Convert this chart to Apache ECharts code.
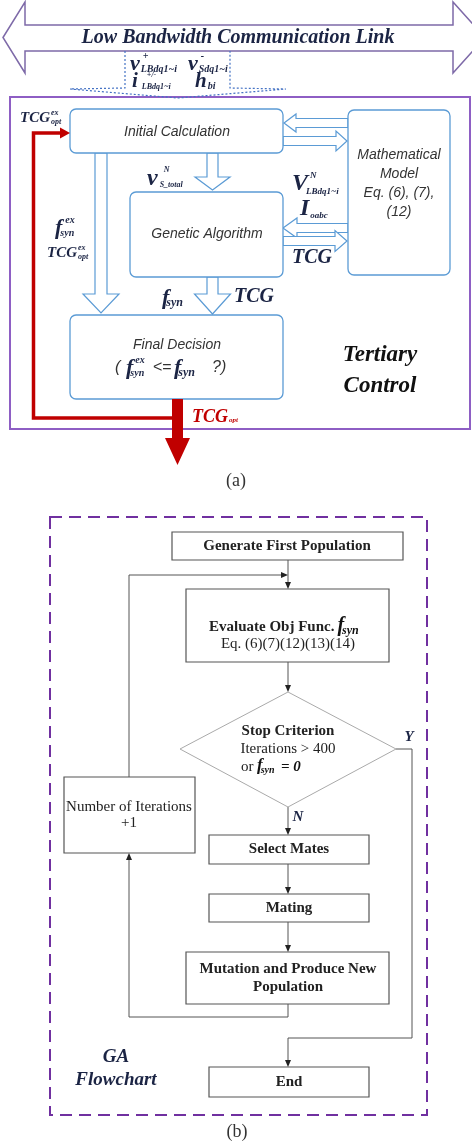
<!DOCTYPE html>
<html><head><meta charset="utf-8">
<script src="https://cdn.jsdelivr.net/npm/echarts@6/dist/echarts.min.js"></script>
<style>html,body{margin:0;padding:0;background:#fff}#c{width:472px;height:1146px}</style>
</head><body><div id="c"></div>
<script>
// ---------- content (text only) ----------
const linkTitle = 'Low Bandwidth Communication Link';
const blockLabels = ['Initial Calculation', 'Genetic Algorithm', 'Final Decision'];
const modelLines = ['Mathematical', 'Model', 'Eq. (6), (7),', '(12)'];
const tertiaryLines = ['Tertiary', 'Control'];
const gaSteps = ['Generate First Population', 'Evaluate Obj Func.', 'Eq. (6)(7)(12)(13)(14)', 'Select Mates', 'Mating', 'Mutation and Produce New', 'Population', 'End'];
const stopLines = ['Stop Criterion', 'Iterations > 400', 'or'];
const iterLines = ['Number of Iterations', '+1'];
const branchLabels = ['Y', 'N'];
const flowTitle = ['GA', 'Flowchart'];
const captions = ['(a)', '(b)'];

// ---------- helpers ----------
const SERIF = '"Liberation Serif","Times New Roman",serif';
const SANS = '"Liberation Sans",Arial,sans-serif';
const NAVY = '#1b2444';
const BLUE = '#5b9bd5';
const RED = '#c00000';
const cv = document.createElement('canvas').getContext('2d');
function measure(t, size, fam, w, s) { cv.font = (s || 'normal') + ' ' + (w || 'normal') + ' ' + size + 'px ' + fam; return cv.measureText(t).width; }
function txt(x, y, text, o) {
  o = o || {};
  const al = o.align || 'left';
  return { type: 'text', x: x, y: y, z: o.z || 20, silent: true,
    style: { text: text, fill: o.fill || '#222', fontSize: o.size || 14, fontFamily: o.fam || SERIF,
      fontWeight: o.weight || 'normal', fontStyle: o.style || 'normal',
      align: al, textAlign: al, verticalAlign: 'middle', textVerticalAlign: 'middle' } };
}
function math(x, y, base, sup, sub, o) {
  o = o || {};
  const bs = o.size || 20, ss = o.ss || Math.round(bs * 0.45), fill = o.fill || NAVY;
  const w = measure(base, bs, SERIF, 'bold', 'italic');
  const out = [txt(x, y, base, { size: bs, weight: 'bold', style: 'italic', fill: fill })];
  if (sup) out.push(txt(x + w + (o.supDx || 1), y - bs * 0.36 + (o.supDy || 0), sup, { size: ss, weight: 'bold', style: 'italic', fill: fill }));
  if (sub) out.push(txt(x + w + (o.subDx || 0), y + bs * 0.26 + (o.subDy || 0), sub, { size: ss, weight: 'bold', style: 'italic', fill: fill }));
  return out;
}
function rect(x, y, w, h, o) {
  return { type: 'rect', z: o.z || 5, silent: true, shape: { x: x, y: y, width: w, height: h, r: o.r || 0 },
    style: { fill: o.fill || '#fff', stroke: o.stroke, lineWidth: o.lw || 1, lineDash: o.dash || null } };
}
function poly(pts, o) {
  return { type: 'polygon', z: o.z || 6, silent: true, shape: { points: pts },
    style: { fill: o.fill || '#fff', stroke: o.stroke || null, lineWidth: o.lw || 1, lineDash: o.dash || null } };
}
function line(pts, o) {
  return { type: 'polyline', z: o.z || 4, silent: true, shape: { points: pts },
    style: { fill: null, stroke: o.stroke || '#444', lineWidth: o.lw || 1, lineDash: o.dash || null } };
}
// hollow arrows
function vArrow(xc, y1, tip, sh, hh, hl) {
  return poly([[xc - sh, y1], [xc - sh, tip - hl], [xc - hh, tip - hl], [xc, tip], [xc + hh, tip - hl], [xc + sh, tip - hl], [xc + sh, y1]], { stroke: BLUE, lw: 1.2, z: 4 });
}
function hArrow(x1, tip, yc, sh, hh, hl) {
  const d = tip > x1 ? 1 : -1;
  return poly([[x1, yc - sh], [tip - d * hl, yc - sh], [tip - d * hl, yc - hh], [tip, yc], [tip - d * hl, yc + hh], [tip - d * hl, yc + sh], [x1, yc + sh]], { stroke: BLUE, lw: 1.2, z: 4 });
}
// small filled arrowheads
function headDown(x, y) { return poly([[x - 3, y - 7], [x + 3, y - 7], [x, y]], { fill: '#222', z: 7 }); }
function headUp(x, y) { return poly([[x - 3, y + 7], [x + 3, y + 7], [x, y]], { fill: '#222', z: 7 }); }
function headRight(x, y) { return poly([[x - 7, y - 3], [x - 7, y + 3], [x, y]], { fill: '#222', z: 7 }); }

const E = [];
// ================= Panel (a) =================
// communication link double arrow
E.push(poly([[3, 37.5], [25, 2], [25, 25], [453, 25], [453, 2], [485, 37.5], [453, 73], [453, 51], [25, 51], [25, 73]], { stroke: '#7e6aa8', lw: 1.5, z: 3 }));
E.push(txt(238, 38, linkTitle, { size: 20, weight: 'bold', style: 'italic', fill: NAVY, align: 'center' }));
// dotted down arrow
E.push(line([[125, 51], [125, 88], [70, 89], [178, 98], [286, 89], [230, 88], [230, 51]], { stroke: '#4472c4', lw: 1.2, dash: [2, 2], z: 3 }));
// tertiary box
E.push(rect(10, 97, 460, 332, { stroke: '#8e5ec4', lw: 2, fill: 'rgba(0,0,0,0)', z: 2 }));
// signals in dotted arrow
E.push(...math(130, 64, 'v', '+', 'LBdq1~i', { size: 22, ss: 10, supDx: 3, subDx: 1, subDy: 0 }));
E.push(...math(188, 64, 'v', '-', 'Sdq1~i', { size: 22, ss: 10, supDx: 3, subDx: 1, subDy: 0 }));
E.push(...math(132, 82, 'i', '+/-', 'LBdq1~i', { size: 21, ss: 8, supDx: 9, subDx: 4, subDy: -1 }));
E.push(...math(195, 82, 'h', null, 'bi', { size: 21, ss: 10, subDx: 1, subDy: -1 }));

// hollow arrows
E.push(vArrow(101, 153, 313, 6, 18, 19));
E.push(vArrow(212.5, 153, 190, 5.5, 17.5, 13));
E.push(vArrow(212.5, 277, 314, 5.5, 18, 20));
E.push(hArrow(348, 284, 123, 4.5, 9, 12));
E.push(hArrow(283, 347, 141, 4.5, 10, 11));
E.push(hArrow(348, 283, 228, 4.5, 10, 14));
E.push(hArrow(283, 347, 241, 4.5, 10.5, 12));

// blocks
E.push(rect(70, 109, 213, 44, { stroke: BLUE, lw: 1.3, r: 6 }));
E.push(rect(130, 192, 153, 85, { stroke: BLUE, lw: 1.3, r: 6 }));
E.push(rect(70, 315, 213, 84, { stroke: BLUE, lw: 1.3, r: 6 }));
E.push(rect(348, 110, 102, 165, { stroke: BLUE, lw: 1.3, r: 6 }));
E.push(txt(177, 132, blockLabels[0], { size: 14, fam: SANS, style: 'italic', fill: '#333', align: 'center' }));
E.push(txt(207, 234, blockLabels[1], { size: 14, fam: SANS, style: 'italic', fill: '#333', align: 'center' }));
E.push(txt(177, 345, blockLabels[2], { size: 14, fam: SANS, style: 'italic', fill: '#333', align: 'center' }));
modelLines.forEach((t, i) => E.push(txt(399, 155 + i * 19, t, { size: 14, fam: SANS, style: 'italic', fill: '#333', align: 'center' })));
// final decision condition
E.push(txt(115, 368, '(', { size: 16, fam: SANS, style: 'italic', fill: '#333' }));
E.push(...math(126, 368, 'f', 'ex', 'syn', { size: 22, ss: 10, supDx: 2, subDx: -3, subDy: 0 }));
E.push(txt(153, 368, '<=', { size: 16, fam: SANS, fill: '#333' }));
E.push(...math(174, 368, 'f', null, 'syn', { size: 22, ss: 12, subDx: -3, subDy: -1 }));
E.push(txt(212, 368, '?)', { size: 16, fam: SANS, style: 'italic', fill: '#333' }));

// signal labels
E.push(...math(20, 118, 'TCG', 'ex', 'opt', { size: 15, ss: 8, supDx: 1, subDx: 1, subDy: 0 }));
E.push(...math(147, 179, 'v', 'N', 'S_total', { size: 24, ss: 8, supDx: 6, subDx: 2, subDy: 0 }));
E.push(...math(292, 184, 'V', 'N', 'LBdq1~i', { size: 24, ss: 9, supDx: 2, subDx: -2, subDy: 1 }));
E.push(...math(300, 209, 'I', null, 'oabc', { size: 24, ss: 9, subDx: 1, subDy: 0 }));
E.push(...math(55, 228, 'f', 'ex', 'syn', { size: 22, ss: 10, supDx: 3, subDx: -2, subDy: 0 }));
E.push(...math(47, 253, 'TCG', 'ex', 'opt', { size: 15, ss: 8, supDx: 1, subDx: 1, subDy: 0 }));
E.push(...math(292, 258, 'TCG', null, null, { size: 20 }));
E.push(...math(162, 298, 'f', null, 'syn', { size: 22, ss: 12, subDx: -3, subDy: -1 }));
E.push(...math(234, 297, 'TCG', null, null, { size: 20 }));
E.push(...math(192, 417, 'TCG', null, 'opt', { size: 18, ss: 7, subDx: 1, subDy: -1, fill: RED }));
// tertiary control label
tertiaryLines.forEach((t, i) => E.push(txt(380, 355 + i * 31, t, { size: 23, weight: 'bold', style: 'italic', fill: '#111', align: 'center' })));

// red feedback path and output arrow
E.push(line([[177.5, 418], [33.5, 418], [33.5, 133], [61, 133]], { stroke: RED, lw: 3.5, z: 8 }));
E.push(poly([[60, 127.5], [70, 133], [60, 138.5]], { fill: RED, z: 8 }));
E.push(poly([[172, 399], [183, 399], [183, 438], [190, 438], [177.5, 465], [165, 438], [172, 438]], { fill: RED, z: 8 }));
E.push(txt(236, 481, captions[0], { size: 18, fill: '#333', align: 'center' }));

// ================= Panel (b) =================
E.push(rect(50, 517, 377, 598, { stroke: '#7030a0', lw: 2, dash: [12, 7], fill: 'rgba(0,0,0,0)', z: 2 }));
const BK = '#555';
// connectors
E.push(line([[288, 560], [288, 583]], { stroke: BK }), headDown(288, 589));
E.push(line([[129, 777], [129, 575], [282, 575]], { stroke: BK }), headRight(288, 575));
E.push(line([[288, 662], [288, 686]], { stroke: BK }), headDown(288, 692));
E.push(line([[288, 807], [288, 829]], { stroke: BK }), headDown(288, 835));
E.push(line([[288, 864], [288, 888]], { stroke: BK }), headDown(288, 894));
E.push(line([[288, 922], [288, 946]], { stroke: BK }), headDown(288, 952));
E.push(line([[288, 1004], [288, 1017], [129, 1017], [129, 859]], { stroke: BK }), headUp(129, 853));
E.push(line([[396, 749], [412, 749], [412, 1038], [288, 1038], [288, 1061]], { stroke: BK }), headDown(288, 1067));
// boxes
E.push(rect(172, 532, 231, 28, { stroke: BK, lw: 1.2 }));
E.push(rect(186, 589, 203, 73, { stroke: BK, lw: 1.2 }));
E.push(rect(64, 777, 131, 76, { stroke: BK, lw: 1.2 }));
E.push(rect(209, 835, 160, 29, { stroke: BK, lw: 1.2 }));
E.push(rect(209, 894, 160, 28, { stroke: BK, lw: 1.2 }));
E.push(rect(186, 952, 203, 52, { stroke: BK, lw: 1.2 }));
E.push(rect(209, 1067, 160, 30, { stroke: BK, lw: 1.2 }));
E.push(poly([[288, 692], [396, 749], [288, 807], [180, 749]], { stroke: '#aaa', lw: 1, z: 5 }));
// box texts
const B = { size: 15, weight: 'bold', fill: '#222', align: 'center' };
const R = { size: 15, fill: '#222', align: 'center' };
E.push(txt(287, 546, gaSteps[0], B));
const evalW = measure(gaSteps[1], 15, SERIF, 'bold', 'normal');
E.push(txt(209, 627, gaSteps[1], Object.assign({}, B, { align: 'left' })));
E.push(...math(209 + evalW + 3, 626, 'f', null, 'syn', { size: 20, ss: 12, subDx: -2, subDy: 0, fill: '#111' }));
E.push(txt(288, 644, gaSteps[2], R));
E.push(txt(289, 849, gaSteps[3], B));
E.push(txt(289, 908, gaSteps[4], B));
E.push(txt(288, 969, gaSteps[5], B));
E.push(txt(288, 987, gaSteps[6], B));
E.push(txt(289, 1082, gaSteps[7], B));
E.push(txt(288, 731, stopLines[0], B));
E.push(txt(288, 749, stopLines[1], R));
E.push(txt(241, 767, stopLines[2], { size: 15, fill: '#222' }));
E.push(...math(257, 766, 'f', null, 'syn', { size: 17, ss: 10, subDx: -2, subDy: 0, fill: '#111' }));
E.push(txt(281, 767, '= 0', { size: 15, weight: 'bold', style: 'italic', fill: '#111' }));
E.push(txt(129, 807, iterLines[0], R));
E.push(txt(129, 823, iterLines[1], R));
E.push(txt(409, 737, branchLabels[0], { size: 15, weight: 'bold', style: 'italic', fill: NAVY, align: 'center' }));
E.push(txt(298, 817, branchLabels[1], { size: 15, weight: 'bold', style: 'italic', fill: NAVY, align: 'center' }));
E.push(txt(116, 1057, flowTitle[0], { size: 19, weight: 'bold', style: 'italic', fill: NAVY, align: 'center' }));
E.push(txt(116, 1080, flowTitle[1], { size: 19, weight: 'bold', style: 'italic', fill: NAVY, align: 'center' }));
E.push(txt(237, 1132, captions[1], { size: 18, fill: '#333', align: 'center' }));

const chart = echarts.init(document.getElementById('c'), null, { renderer: 'canvas', width: 472, height: 1146 });
chart.setOption({ animation: false, backgroundColor: '#fff', graphic: { elements: E } });
</script></body></html>
